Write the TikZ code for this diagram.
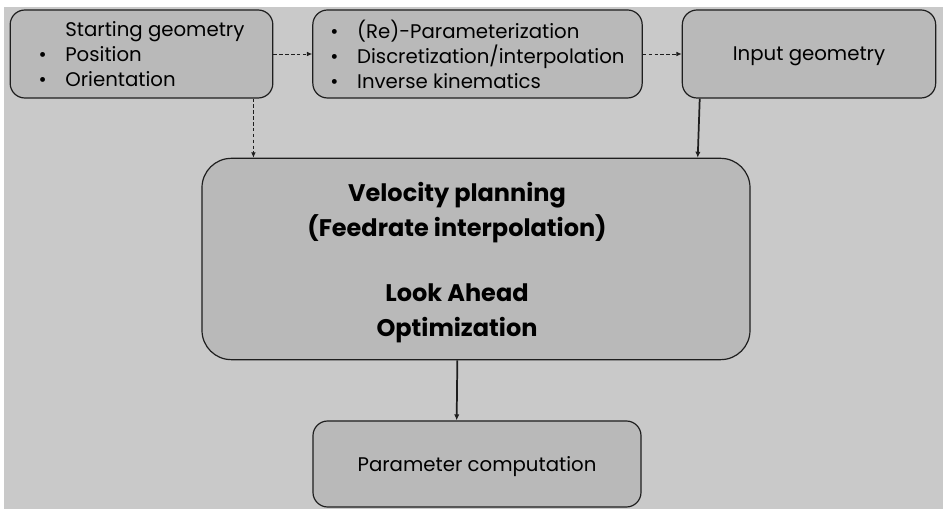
\documentclass[tikz,border=0pt]{standalone}
\usepackage{fontspec}
\setmainfont{Poppins}
\usepackage{tikz}
\usetikzlibrary{arrows.meta,positioning,calc}
\definecolor{pagebg}{HTML}{C9C9C9}
\definecolor{boxfill}{HTML}{B9B9B9}
\definecolor{edgeline}{HTML}{1E1E1E}
\tikzset{
  stage/.style={rounded corners=11pt, draw=edgeline, line width=0.9pt, fill=boxfill,
                align=left, inner sep=0pt, font=\fontsize{14.8}{18.8}\selectfont,
                minimum height=66pt},
  core/.style={rounded corners=22pt, draw=edgeline, line width=0.9pt, fill=boxfill,
               inner sep=0pt, font=\fontsize{18}{26}\selectfont\bfseries,
               minimum width=411pt, minimum height=151pt},
  flow/.style={-{Latex[length=4.5pt,width=4pt]}, line width=1.3pt, draw=edgeline},
  dashflow/.style={-{Latex[length=4pt,width=3.5pt]}, line width=0.7pt,
                   draw=edgeline, dash pattern=on 2.6pt off 1.8pt},
}
\newcommand{\itm}{\textbullet\hspace{14pt}}

\begin{document}
\begin{tikzpicture}[x=0.75pt, y=-0.75pt]
% page and margins
\useasboundingbox (0,0) rectangle (943,509);
\fill[white] (0,0) rectangle (943,509);
\fill[pagebg] (4,7) rectangle (943,509);

\node[stage, minimum width=197pt] at (141.5,54) (start)
  {\hphantom{\itm}Starting geometry\\ \itm Position\\ \itm Orientation};
\node[stage, minimum width=247pt] at (477.5,54) (param)
  {\itm (Re)-Parameterization\\ \itm Discretization/interpolation\\
   \itm Inverse kinematics};
\node[stage, minimum width=190pt, align=center, text height=14.5pt] at (809,54) (input)
  {Input geometry};
% text sits left of and a bit below the box centre
\node[core] at (476,259) (velo)
  {\raisebox{0pt}[\dimexpr\height+4.5pt][\depth]{\begin{tabular}{@{}c@{}}Velocity planning\\
   (Feedrate interpolation)\\[23pt]Look Ahead\\Optimization\end{tabular}}\hspace*{28.5pt}};
\node[stage, minimum width=246pt, minimum height=64.5pt, align=center, text height=14.5pt]
  at (477,464) (pcomp) {Parameter computation};

\draw[dashflow] (start) -- (param);
\draw[dashflow] (param) -- (input);
\draw[dashflow] ([xshift=-15pt]start.south east) -- ([xshift=-15pt]start.south east |- velo.north);
\draw[flow] ([xshift=13.5pt]input.south west) -- ([xshift=12pt]input.south west |- velo.north);
\draw[flow] ([xshift=-14pt]velo.south) -- ([xshift=-14.5pt]velo.south |- pcomp.north);
\end{tikzpicture}
\end{document}
